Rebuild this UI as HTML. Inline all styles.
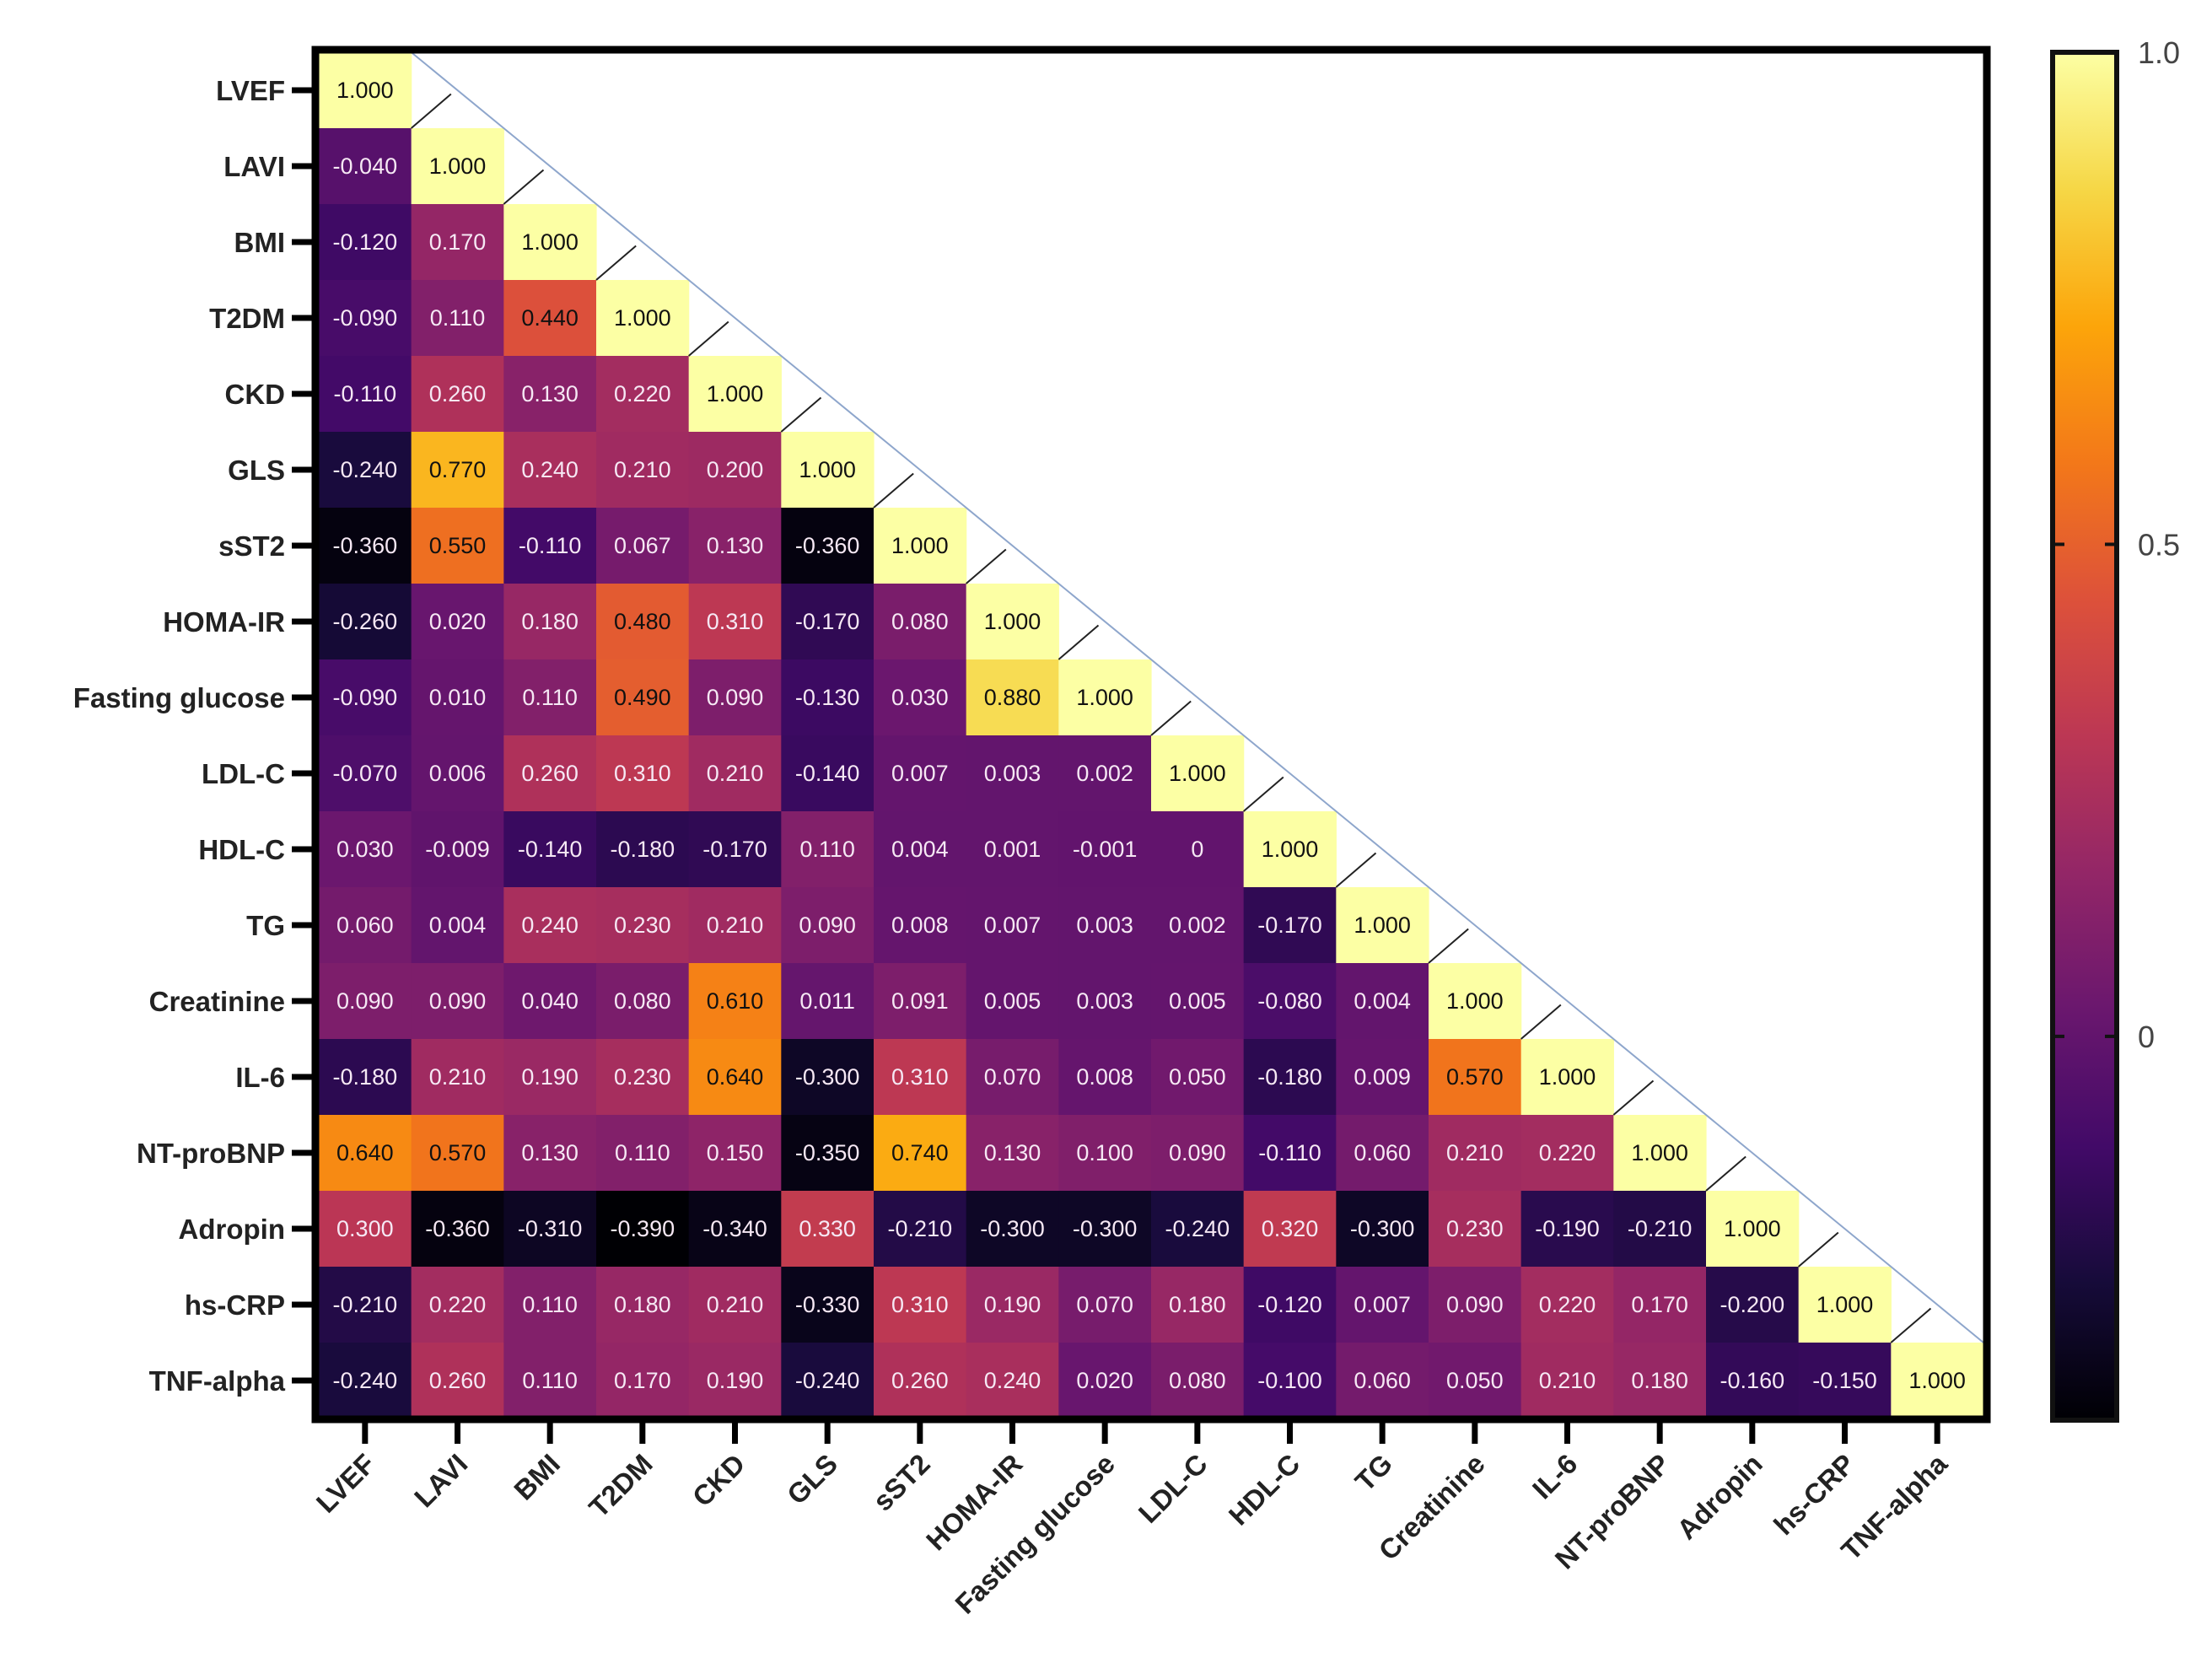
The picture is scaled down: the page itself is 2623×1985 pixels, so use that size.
<!DOCTYPE html>
<html><head><meta charset="utf-8">
<style>
html,body{margin:0;padding:0;background:#fff;}
svg{display:block;font-family:"Liberation Sans",Arial,sans-serif;}
</style></head>
<body>
<svg id="chart" width="2623" height="1985" viewBox="0 0 2623 1985" xmlns="http://www.w3.org/2000/svg">
<defs>
<linearGradient id="inferno" x1="0" y1="1" x2="0" y2="0">
<stop offset="0" stop-color="#000004"/><stop offset="0.1" stop-color="#160b39"/><stop offset="0.2" stop-color="#420a68"/>
<stop offset="0.3" stop-color="#6a176e"/><stop offset="0.4" stop-color="#932667"/><stop offset="0.5" stop-color="#bc3754"/>
<stop offset="0.6" stop-color="#dd513a"/><stop offset="0.7" stop-color="#f37819"/><stop offset="0.8" stop-color="#fca50a"/>
<stop offset="0.9" stop-color="#f6d746"/><stop offset="1" stop-color="#fcffa4"/>
</linearGradient>
</defs>
<g id="cells"></g>
<g id="diag"></g>
<g id="ylabels"></g>
<g id="xlabels"></g>
<rect x="374" y="59" width="1982" height="1624" fill="none" stroke="#000" stroke-width="9"/>
<g id="cbar"></g>
</svg>
<script>
const labels = ["LVEF","LAVI","BMI","T2DM","CKD","GLS","sST2","HOMA-IR","Fasting glucose","LDL-C","HDL-C","TG","Creatinine","IL-6","NT-proBNP","Adropin","hs-CRP","TNF-alpha"];
const rLVEF=[1];
const rLAVI=[-0.040,1];
const rBMI=[-0.120,0.170,1];
const rT2DM=[-0.090,0.110,0.440,1];
const rCKD=[-0.110,0.260,0.130,0.220,1];
const rGLS=[-0.240,0.770,0.240,0.210,0.200,1];
const rSST2=[-0.360,0.550,-0.110,0.067,0.130,-0.360,1];
const rHOMA=[-0.260,0.020,0.180,0.480,0.310,-0.170,0.080,1];
const rFG=[-0.090,0.010,0.110,0.490,0.090,-0.130,0.030,0.880,1];
const rLDL=[-0.070,0.006,0.260,0.310,0.210,-0.140,0.007,0.003,0.002,1];
const rHDL=[0.030,-0.009,-0.140,-0.180,-0.170,0.110,0.004,0.001,-0.001,0,1];
const rTG=[0.060,0.004,0.240,0.230,0.210,0.090,0.008,0.007,0.003,0.002,-0.170,1];
const rCREA=[0.090,0.090,0.040,0.080,0.610,0.011,0.091,0.005,0.003,0.005,-0.080,0.004,1];
const rIL6=[-0.180,0.210,0.190,0.230,0.640,-0.300,0.310,0.070,0.008,0.050,-0.180,0.009,0.570,1];
const rNT=[0.640,0.570,0.130,0.110,0.150,-0.350,0.740,0.130,0.100,0.090,-0.110,0.060,0.210,0.220,1];
const rADRO=[0.300,-0.360,-0.310,-0.390,-0.340,0.330,-0.210,-0.300,-0.300,-0.240,0.320,-0.300,0.230,-0.190,-0.210,1];
const rCRP=[-0.210,0.220,0.110,0.180,0.210,-0.330,0.310,0.190,0.070,0.180,-0.120,0.007,0.090,0.220,0.170,-0.200,1];
const rTNF=[-0.240,0.260,0.110,0.170,0.190,-0.240,0.260,0.240,0.020,0.080,-0.100,0.060,0.050,0.210,0.180,-0.160,-0.150,1];
const rows=[rLVEF,rLAVI,rBMI,rT2DM,rCKD,rGLS,rSST2,rHOMA,rFG,rLDL,rHDL,rTG,rCREA,rIL6,rNT,rADRO,rCRP,rTNF];
const cbTicks=[1.0,0.5,0];
const cbTickLabels=["1.0","0.5","0"];
const vmin=-0.39, vmax=1.0;

const NS="http://www.w3.org/2000/svg";
const L=378,T=62,W=1974,H=1620,n=labels.length,cw=W/n,ch=H/n;
const xs=i=>L+i*cw, ys=i=>T+i*ch;
const stops=[[0,0,0,4],[0.1,22,11,57],[0.2,66,10,104],[0.3,106,23,110],[0.4,147,38,103],[0.5,188,55,84],[0.6,221,81,58],[0.7,243,120,25],[0.8,252,165,10],[0.9,246,215,70],[1,252,255,164]];
function color(v){let t=(v-vmin)/(vmax-vmin);t=Math.max(0,Math.min(1,t));
 for(let k=1;k<stops.length;k++){if(t<=stops[k][0]){const a=stops[k-1],b=stops[k],f=(t-a[0])/(b[0]-a[0]);
  return `rgb(${Math.round(a[1]+f*(b[1]-a[1]))},${Math.round(a[2]+f*(b[2]-a[2]))},${Math.round(a[3]+f*(b[3]-a[3]))})`;}}return "rgb(252,255,164)";}
function mk(tag,attrs,parent){const e=document.createElementNS(NS,tag);for(const k in attrs)e.setAttribute(k,attrs[k]);parent.appendChild(e);return e;}
const gc=document.getElementById('cells');
rows.forEach((row,i)=>row.forEach((v,j)=>{
 const r=mk('rect',{x:xs(j),y:ys(i),width:cw+0.6,height:ch+0.6,fill:color(v)},gc);
 
 
 const t=mk('text',{x:xs(j)+cw/2,y:ys(i)+ch/2+9,'text-anchor':'middle','font-size':27,fill:v>=0.4?'#111':'#f6e8f4'},gc);
 t.textContent=v===0?"0":v.toFixed(3);
 
 
}));
const gd=document.getElementById('diag');
const bl=mk('line',{x1:xs(1),y1:ys(0),x2:xs(n),y2:ys(n-1),stroke:'#8ea6cc','stroke-width':2},gd);


for(let i=1;i<n;i++){const s=mk('line',{x1:xs(i),y1:ys(i),x2:xs(i)+cw*0.43,y2:ys(i)-ch*0.45,stroke:'#222','stroke-width':2},gd);
 
 }
const gy=document.getElementById('ylabels');
labels.forEach((lab,i)=>{const cy=ys(i)+ch/2;
 const tk=mk('line',{x1:346,y1:cy,x2:372,y2:cy,stroke:'#000','stroke-width':7},gy);
 
 
 const t=mk('text',{x:338,y:cy+12,'text-anchor':'end','font-size':33,'font-weight':'bold',fill:'#222'},gy);
 t.textContent=lab;
 
 });
const gx=document.getElementById('xlabels');
labels.forEach((lab,j)=>{const cx=xs(j)+cw/2;
 const tk=mk('line',{x1:cx,y1:1686,x2:cx,y2:1712,stroke:'#000','stroke-width':7},gx);
 
 
 const t=mk('text',{x:cx+14,y:1738,'text-anchor':'end','font-size':33,'font-weight':'bold',fill:'#222',transform:`rotate(-45 ${cx+14} 1738)`},gx);
 t.textContent=lab;
 
 });
const gb=document.getElementById('cbar');
const cy0=62,cy1=1684,cyv=v=>cy1-(v-vmin)/(vmax-vmin)*(cy1-cy0);
const cr=mk('rect',{x:2434,y:cy0,width:76,height:cy1-cy0,fill:'url(#inferno)',stroke:'#111','stroke-width':6},gb);


cbTicks.forEach((v,k)=>{const y=cyv(v);
 const a=mk('line',{x1:2434,y1:y,x2:2448,y2:y,stroke:'#111','stroke-width':4},gb);
 
 
 const b=mk('line',{x1:2496,y1:y,x2:2510,y2:y,stroke:'#111','stroke-width':4},gb);
 
 
 const t=mk('text',{x:2535,y:y+13,'font-size':36,fill:'#444'},gb);
 t.textContent=cbTickLabels[k];
 
 });
</script>
</body></html>
